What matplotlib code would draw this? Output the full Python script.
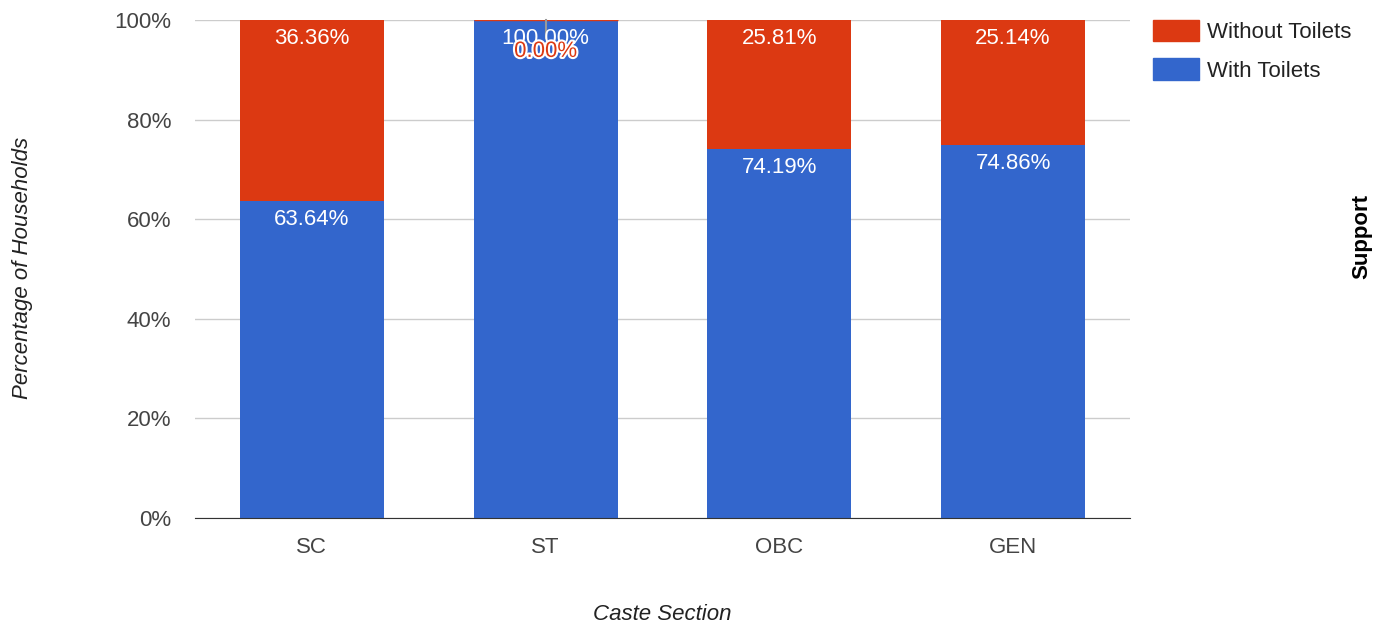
import matplotlib
matplotlib.use("Agg")
import matplotlib.pyplot as plt
import matplotlib.patheffects as pe
from matplotlib.patches import Patch

categories = ["SC", "ST", "OBC", "GEN"]
with_toilets = [63.64, 100.00, 74.19, 74.86]
without_toilets = [36.36, 0.00, 25.81, 25.14]
yticks = [0, 20, 40, 60, 80, 100]

BLUE = "#3366CC"
RED = "#DC3912"
FS = 16

plt.rcParams['font.family'] = ['Liberation Sans', 'DejaVu Sans']
fig = plt.figure(figsize=(13.74, 6.23), dpi=100)
ax = fig.add_axes([195/1374, 1-518/623, 935/1374, 498/623])

x = list(range(len(categories)))
w = 0.616
ax.bar(x, with_toilets, width=w, color=BLUE, zorder=2)
ax.bar(x, without_toilets, width=w, bottom=with_toilets, color=RED, zorder=2,
       edgecolor=[RED if v == 0 else "none" for v in without_toilets], linewidth=1)

for i in x:
    ax.text(i, with_toilets[i] - 1.6, f"{with_toilets[i]:.2f}%", ha="center", va="top",
            color="white", fontsize=FS, zorder=4)
    top = with_toilets[i] + without_toilets[i]
    if without_toilets[i] > 3:
        ax.text(i, top - 1.6, f"{without_toilets[i]:.2f}%", ha="center", va="top",
                color="white", fontsize=FS, zorder=4)
    else:
        ax.text(i, top - 4.2, f"{without_toilets[i]:.2f}%", ha="center", va="top",
                color=RED, fontsize=FS, zorder=5,
                path_effects=[pe.withStroke(linewidth=3, foreground="white")])
        ax.plot([i, i], [top - 3.6, top + 0.1], color="#999999", lw=1.5, zorder=3.5,
                clip_on=False)

ax.set_xlim(-0.5, len(categories) - 0.5)
ax.set_ylim(0, 100)
ax.set_yticks(yticks)
ax.set_yticklabels([f"{v}%" for v in yticks])
ax.set_xticks(x)
ax.set_xticklabels(categories)
ax.tick_params(axis="both", length=0, labelsize=FS, colors="#444444")
ax.tick_params(axis="x", pad=14)
ax.tick_params(axis="y", pad=17)
ax.grid(axis="y", color="#cccccc", linewidth=1, zorder=0)
for s in ["top", "right", "left"]:
    ax.spines[s].set_visible(False)
ax.spines["bottom"].set_color("#333333")
ax.spines["bottom"].set_zorder(3)

fig.text(23/1374, 1-268/623, "Percentage of Households", rotation=90, ha="center", va="center",
         fontsize=FS, style="italic", color="#222222")
fig.text(662/1374, 1-614/623, "Caste Section", ha="center", va="center",
         fontsize=FS, style="italic", color="#222222")
fig.text(1362/1374, 1-236/623, "Support", rotation=90, ha="center", va="center",
         fontsize=FS, fontweight="bold", color="#000000")

handles = [Patch(color=RED, label="Without Toilets"), Patch(color=BLUE, label="With Toilets")]
fig.legend(handles=handles, loc="upper left", bbox_to_anchor=(1153/1374, 1-20/623),
           frameon=False, fontsize=FS, handlelength=2.05, handleheight=1.1,
           handletextpad=0.4, labelspacing=0.68, labelcolor="#222222",
           borderaxespad=0, borderpad=0.0)

fig.savefig("out.png", dpi=100)
